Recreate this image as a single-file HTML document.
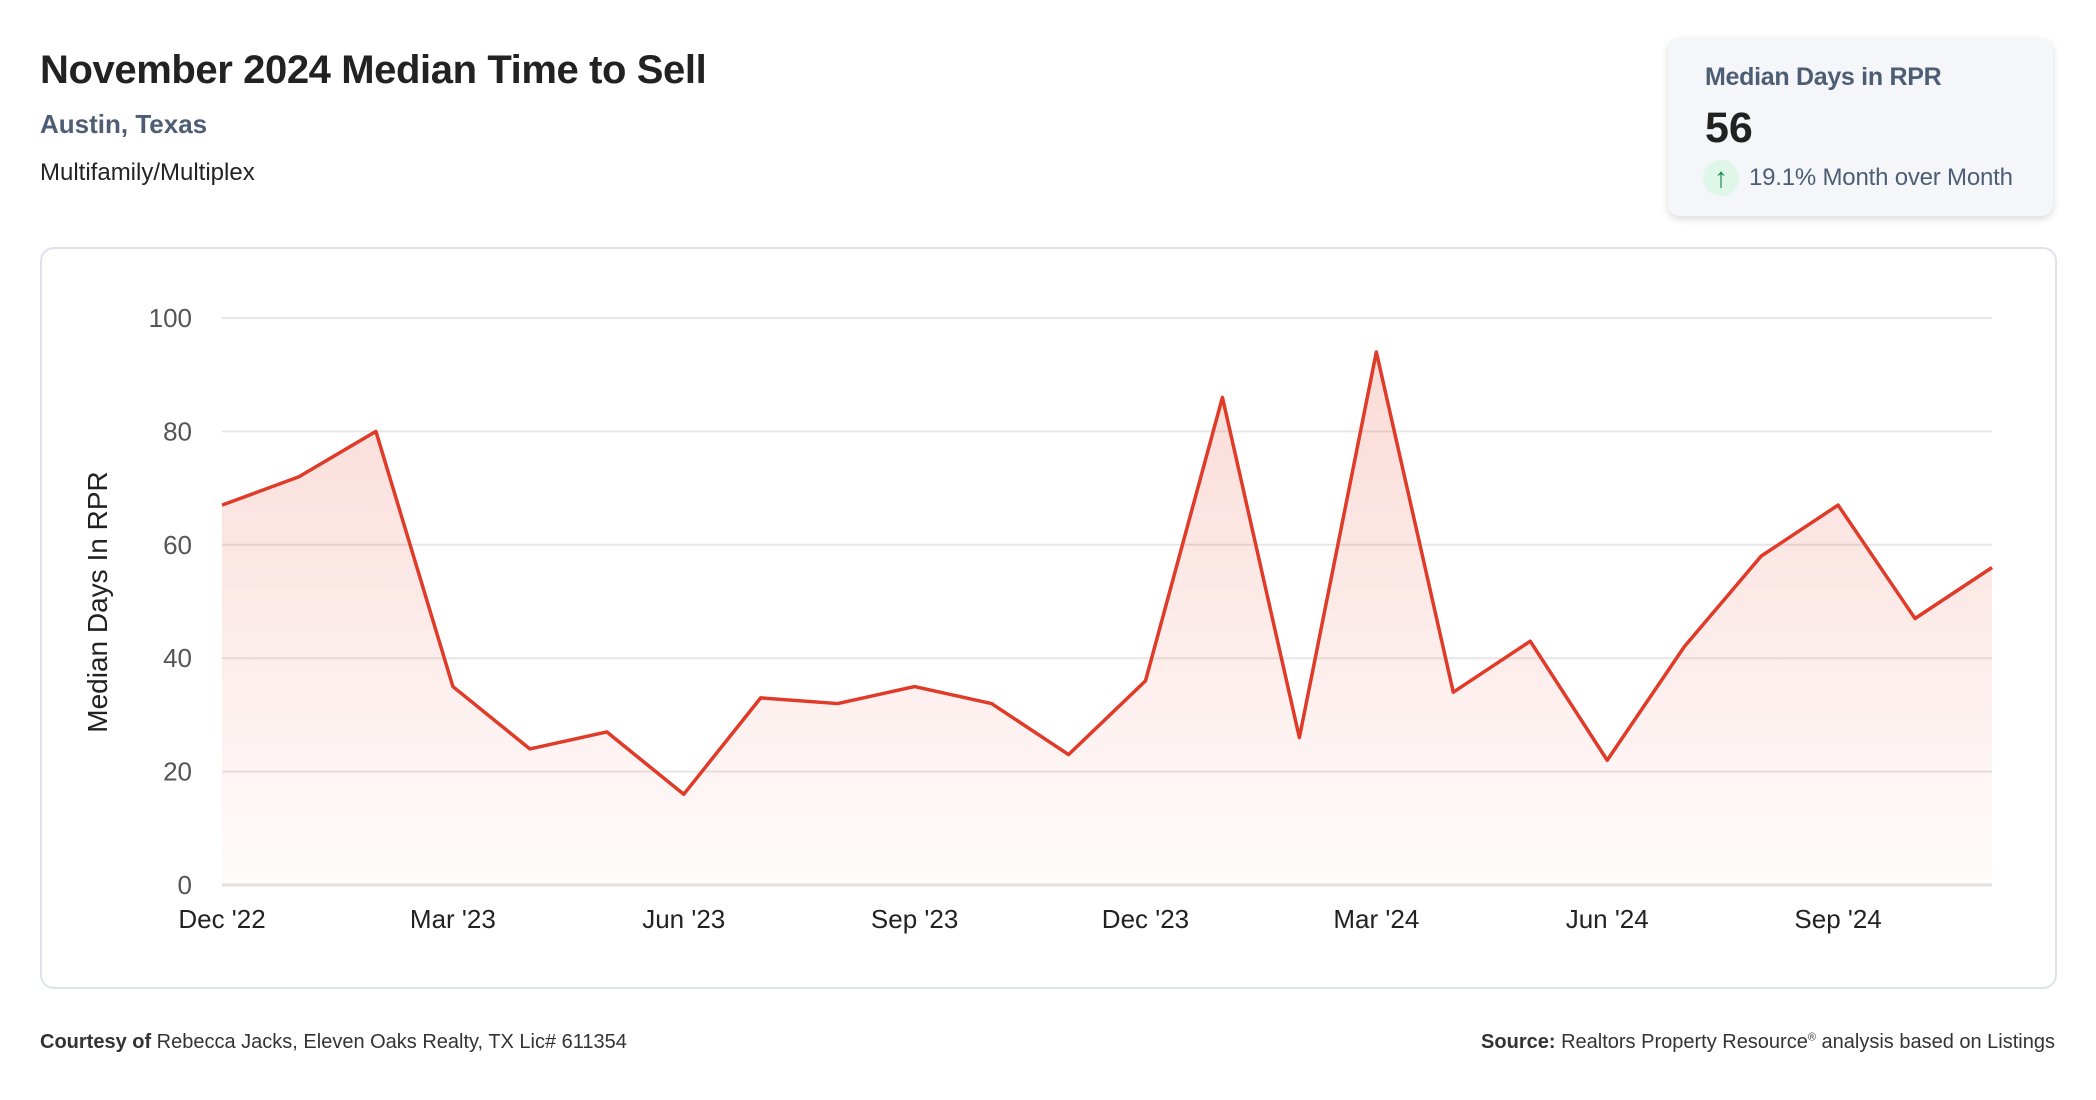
<!DOCTYPE html>
<html><head><meta charset="utf-8"><style>
body{margin:0;width:2096px;height:1100px;background:#fff;font-family:"Liberation Sans",sans-serif;position:relative;overflow:hidden}
.a{position:absolute;white-space:nowrap}
</style></head><body>
<div class="a" style="left:40px;top:48px;font-size:40px;font-weight:bold;color:#222;letter-spacing:-0.4px">November 2024 Median Time to Sell</div>
<div class="a" style="left:40px;top:109px;font-size:26px;font-weight:bold;color:#4d5d75">Austin, Texas</div>
<div class="a" style="left:40px;top:159px;font-size:24px;color:#222">Multifamily/Multiplex</div>
<div class="a" style="left:1668px;top:38px;width:385px;height:178px;background:#f5f6f9;border-radius:12px;box-shadow:0 3px 8px rgba(0,0,0,0.15)">
 <div class="a" style="left:37px;top:25px;font-size:25px;font-weight:bold;color:#4d5d75;letter-spacing:-0.3px">Median Days in RPR</div>
 <div class="a" style="left:37px;top:66px;font-size:43px;font-weight:bold;color:#222">56</div>
 <div class="a" style="left:35px;top:122px;width:36px;height:36px;border-radius:50%;background:#def7e8;color:#1a8a4a;font-size:28px;line-height:36px;text-align:center">↑</div>
 <div class="a" style="left:81px;top:126px;font-size:24px;color:#4d5d75;letter-spacing:-0.2px">19.1% Month over Month</div>
</div>
<div class="a" style="left:40px;top:247px;width:2013px;height:738px;border:2px solid #dde2ec;border-radius:14px"></div>
<svg class="a" style="left:0;top:0" width="2096" height="1100">
<defs><linearGradient id="g" x1="0" y1="0" x2="0" y2="1"><stop offset="0" stop-color="#e64a35" stop-opacity="0.2"/><stop offset="1" stop-color="#e64a35" stop-opacity="0.02"/></linearGradient></defs>
<g id="grid"></g><path id="area" fill="url(#g)"/><path id="line" fill="none" stroke="#e03a28" stroke-width="3.5" stroke-linejoin="round"/><g id="labels"></g>
<text transform="translate(107,602) rotate(-90)" text-anchor="middle" font-size="28" fill="#222">Median Days In RPR</text>
</svg>
<div class="a" style="left:40px;top:1031px;font-size:20px;color:#333"><b>Courtesy of</b> Rebecca Jacks, Eleven Oaks Realty, TX Lic# 611354</div>
<div class="a" style="right:41px;top:1031px;font-size:20px;color:#333"><b>Source:</b> Realtors Property Resource<sup style="font-size:11px">®</sup> analysis based on Listings</div>
<script>
const values=[67,72,80,35,24,27,16,33,32,35,32,23,36,86,26,94,34,43,22,42,58,67,47,56];
const xLabels=["Dec '22","Mar '23","Jun '23","Sep '23","Dec '23","Mar '24","Jun '24","Sep '24"];
const yTicks=[0,20,40,60,80,100];
const X0=222,X1=1992,Y0=885,Y1=318;
const xs=i=>X0+(X1-X0)*i/(values.length-1);
const ys=v=>Y0-(Y0-Y1)*v/100;
const NS="http://www.w3.org/2000/svg";
const grid=document.getElementById('grid'),lab=document.getElementById('labels');
yTicks.forEach(t=>{
 const l=document.createElementNS(NS,'line');
 
 
 l.setAttribute('x1',X0);l.setAttribute('x2',X1);l.setAttribute('y1',ys(t));l.setAttribute('y2',ys(t));
 l.setAttribute('stroke',t===0?'#e2e2e2':'#e6e6e6');l.setAttribute('stroke-width',t===0?3:2);
 grid.appendChild(l);
 const tx=document.createElementNS(NS,'text');
 
 
 tx.setAttribute('x',192);tx.setAttribute('y',ys(t)+9);tx.setAttribute('text-anchor','end');
 tx.setAttribute('font-size','26');tx.setAttribute('fill','#555');tx.textContent=t;lab.appendChild(tx);
});
xLabels.forEach((s,k)=>{
 const tx=document.createElementNS(NS,'text');
 
 
 tx.setAttribute('x',xs(k*3));tx.setAttribute('y',928);tx.setAttribute('text-anchor','middle');
 tx.setAttribute('font-size','26');tx.setAttribute('fill','#222');tx.textContent=s;lab.appendChild(tx);
});
let d=values.map((v,i)=>(i?'L':'M')+xs(i)+','+ys(v)).join(' ');
document.getElementById('line').setAttribute('d',d);
document.getElementById('area').setAttribute('d',d+' L'+xs(values.length-1)+','+Y0+' L'+X0+','+Y0+' Z');
</script>
</body></html>
